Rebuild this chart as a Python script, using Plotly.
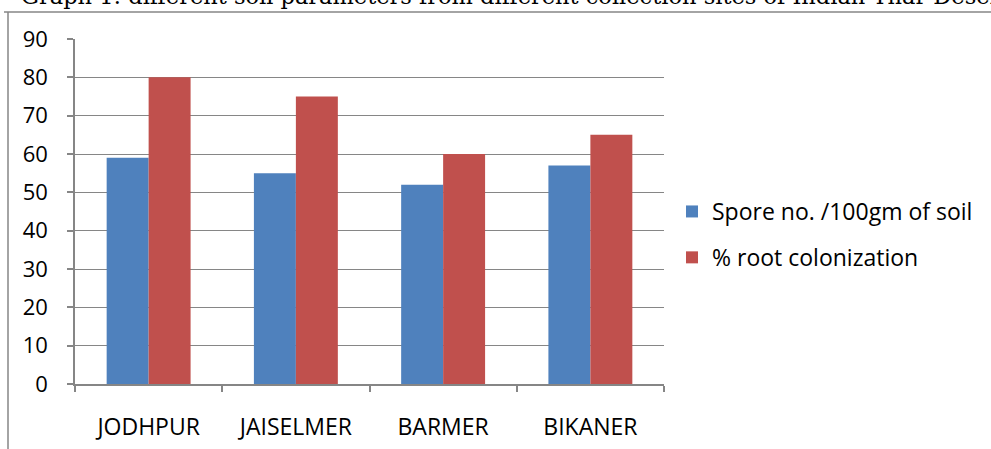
import plotly.graph_objects as go

sites = ["JODHPUR", "JAISELMER", "BARMER", "BIKANER"]
spore = [59, 55, 52, 57]
root_col = [80, 75, 60, 65]
series_names = ["Spore no. /100gm of soil", "% root colonization"]
y_ticks = [0, 10, 20, 30, 40, 50, 60, 70, 80, 90]
title_text = "Graph 1: different soil parameters from different collection sites of Indian Thar Desert"

BLUE = "#4F81BD"
RED = "#C0504D"
GRAY = "#868686"
FONT = "Open Sans"

W, H = 991, 449
ml, mr, mt, mb = 75, 327, 39, 65
pw = W - ml - mr
ph = H - mt - mb

fig = go.Figure()
fig.add_trace(go.Bar(x=sites, y=spore, name=series_names[0], marker=dict(color=BLUE, line=dict(width=0)),
                     legendgroup="a"))
fig.add_trace(go.Bar(x=sites, y=root_col, name=series_names[1], marker=dict(color=RED, line=dict(width=0)),
                     legendgroup="b"))

def px_x(x):
    return (x - ml) / pw

def px_y(y):
    return 1 - (y - mt) / ph

fig.update_layout(
    width=W, height=H,
    margin=dict(l=ml, r=mr, t=mt, b=mb, autoexpand=False),
    paper_bgcolor="white", plot_bgcolor="white",
    barmode="group", bargap=0.43, bargroupgap=0,
    font=dict(family=FONT, size=22, color="black"),
    showlegend=True,
    legend=dict(x=px_x(672), y=px_y(190), xanchor="left", yanchor="top",
                font=dict(family=FONT, size=23, color="black"),
                tracegroupgap=13, bgcolor="rgba(0,0,0,0)"),
    xaxis=dict(type="category", showline=True, linecolor=GRAY, linewidth=1.5, automargin=False,
               ticks="outside", tickson="boundaries", ticklen=6, tickcolor=GRAY, tickwidth=1.5,
               showgrid=False, ticklabelstandoff=22, tickfont=dict(family=FONT, size=23)),
    yaxis=dict(range=[0, 90], tickvals=y_ticks, showline=True, linecolor=GRAY, linewidth=1.5, automargin=False,
               ticks="outside", ticklen=6, tickcolor=GRAY, tickwidth=1.5,
               showgrid=True, gridcolor=GRAY, gridwidth=1.2, zeroline=False,
               ticklabelstandoff=15, tickfont=dict(family=FONT, size=22)),
)

# outer chart border (left and top edges visible)
fig.add_shape(type="line", xref="paper", yref="paper", x0=px_x(8), x1=px_x(8), y0=px_y(12), y1=px_y(460),
              line=dict(color=GRAY, width=1.5))
fig.add_shape(type="line", xref="paper", yref="paper", x0=px_x(4), x1=px_x(1000), y0=px_y(12), y1=px_y(12),
              line=dict(color=GRAY, width=1.5))

fig.add_annotation(text=title_text, xref="paper", yref="paper", x=px_x(19), y=px_y(11),
                   xanchor="left", yanchor="bottom", showarrow=False,
                   font=dict(family="DejaVu Serif", size=22.5, color="black"))

fig.write_html("out.html")
